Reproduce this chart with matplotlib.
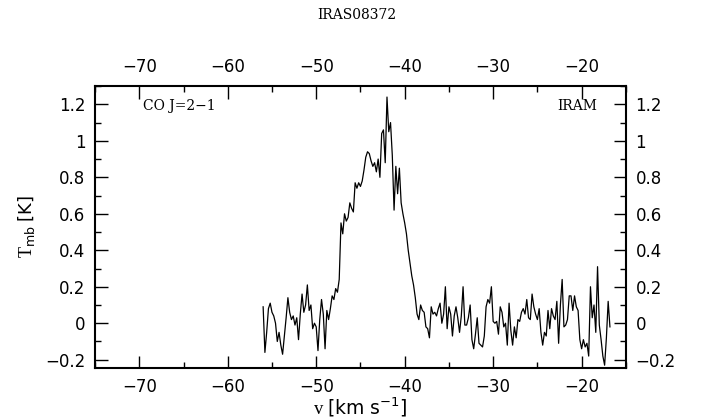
import matplotlib
matplotlib.use("Agg")
import matplotlib.pyplot as plt
import numpy as np
from matplotlib.ticker import MultipleLocator, FuncFormatter

# spectrum channels: start velocity and channel width (km/s)
v_start = -56.0
dv = 0.2

# Tmb [K]
tmb_blue = [0.09, -0.16, -0.05, 0.08, 0.11, 0.06, 0.04, 0.00, -0.10, -0.05,
            -0.12, -0.17, -0.07, 0.03, 0.14, 0.06, 0.02, 0.04, -0.01, 0.03,
            -0.09, 0.05, 0.16, 0.06, 0.10, 0.21, 0.07, 0.10, -0.03, 0.00,
            -0.02, -0.15, 0.02, 0.13, 0.05, -0.14, 0.07, 0.02, 0.08, 0.15,
            0.13, 0.19, 0.17, 0.24]
tmb_line = [0.55, 0.49, 0.60, 0.56, 0.58, 0.66, 0.63, 0.61, 0.77, 0.74,
            0.77, 0.75, 0.78, 0.84, 0.91, 0.94, 0.93, 0.89, 0.86, 0.88,
            0.83, 0.90, 0.80, 1.04, 1.06, 0.88, 1.24, 1.05, 1.10, 0.92,
            0.62, 0.86, 0.71, 0.85, 0.66, 0.60, 0.55, 0.49, 0.40, 0.33,
            0.26, 0.21, 0.14, 0.05, 0.02, 0.10, 0.07]
tmb_red = [0.06, -0.02, -0.03, -0.08, 0.09, 0.05, 0.06, 0.04, 0.08, 0.11,
           0.00, 0.05, 0.20, -0.03, 0.09, 0.05, -0.07, 0.04, 0.09, 0.03,
           -0.05, 0.04, 0.20, -0.01, -0.01, 0.03, 0.10, -0.09, -0.14, -0.06,
           0.03, -0.11, -0.12, -0.13, -0.07, 0.09, 0.13, 0.11, 0.20, 0.01,
           0.00, 0.01, -0.06, 0.09, 0.06, -0.02, 0.00, -0.12, 0.11, -0.04,
           -0.12, -0.02, -0.08, 0.02, 0.01, 0.06, 0.08, 0.05, 0.13, 0.03,
           0.02, 0.16, 0.09, 0.05, 0.02, 0.08, -0.05, -0.12, -0.05, -0.07,
           0.07, -0.03, 0.08, 0.04, 0.02, 0.12, -0.11, 0.10, 0.24, -0.02,
           -0.01, 0.02, 0.15, 0.15, 0.07, 0.15, 0.09, 0.07, -0.09, -0.14,
           -0.09, -0.13, -0.11, -0.18, 0.20, 0.03, 0.10, -0.05, 0.31, -0.01,
           -0.09, -0.18, -0.23, -0.08, 0.12, -0.02]

tmb = np.array(tmb_blue + tmb_line + tmb_red)
vel = v_start + dv * np.arange(len(tmb))

serif = ["Liberation Serif", "DejaVu Serif"]
wide_serif = ["DejaVu Serif"]

fig = plt.figure(figsize=(7.04, 4.2), dpi=100)
ax = fig.add_axes([0.135, 0.124, 0.754, 0.671])
ax.plot(vel, tmb, color="black", lw=0.9)

ax.set_xlim(-75, -15)
ax.set_ylim(-0.245, 1.3)

def fmt(x, pos):
    s = f"{x:.1f}".rstrip("0").rstrip(".")
    if s == "-0":
        s = "0"
    return s.replace("-", "\u2212")

ax.xaxis.set_major_locator(MultipleLocator(10))
ax.xaxis.set_minor_locator(MultipleLocator(5))
ax.yaxis.set_major_locator(MultipleLocator(0.2))
ax.yaxis.set_minor_locator(MultipleLocator(0.1))
ax.xaxis.set_major_formatter(FuncFormatter(fmt))
ax.yaxis.set_major_formatter(FuncFormatter(fmt))

ax.tick_params(which="both", direction="in", top=True, right=True,
               labeltop=True, labelright=True, width=1.0, labelsize=12)
ax.tick_params(which="major", length=9, pad=7)
ax.tick_params(which="minor", length=4.5)
for sp in ax.spines.values():
    sp.set_linewidth(1.5)

ax.set_xlabel(r"v $\left[\mathrm{km\ s^{-1}}\right]$", fontsize=13.5,
              family=serif, labelpad=0)
ax.set_ylabel(r"T$_{\mathrm{mb}}$ $\left[\mathrm{K}\right]$", fontsize=13,
              family=serif, labelpad=6)

ax.text(0.09, 0.93, "CO J=2\u22121", transform=ax.transAxes, fontsize=10,
        family=wide_serif, ha="left", va="center")
ax.text(0.946, 0.93, "IRAM", transform=ax.transAxes, fontsize=10,
        family=wide_serif, ha="right", va="center")
fig.text(0.507, 0.965, "IRAS08372", fontsize=10, family=wide_serif,
         ha="center", va="center")

fig.savefig("out.png", dpi=100)
